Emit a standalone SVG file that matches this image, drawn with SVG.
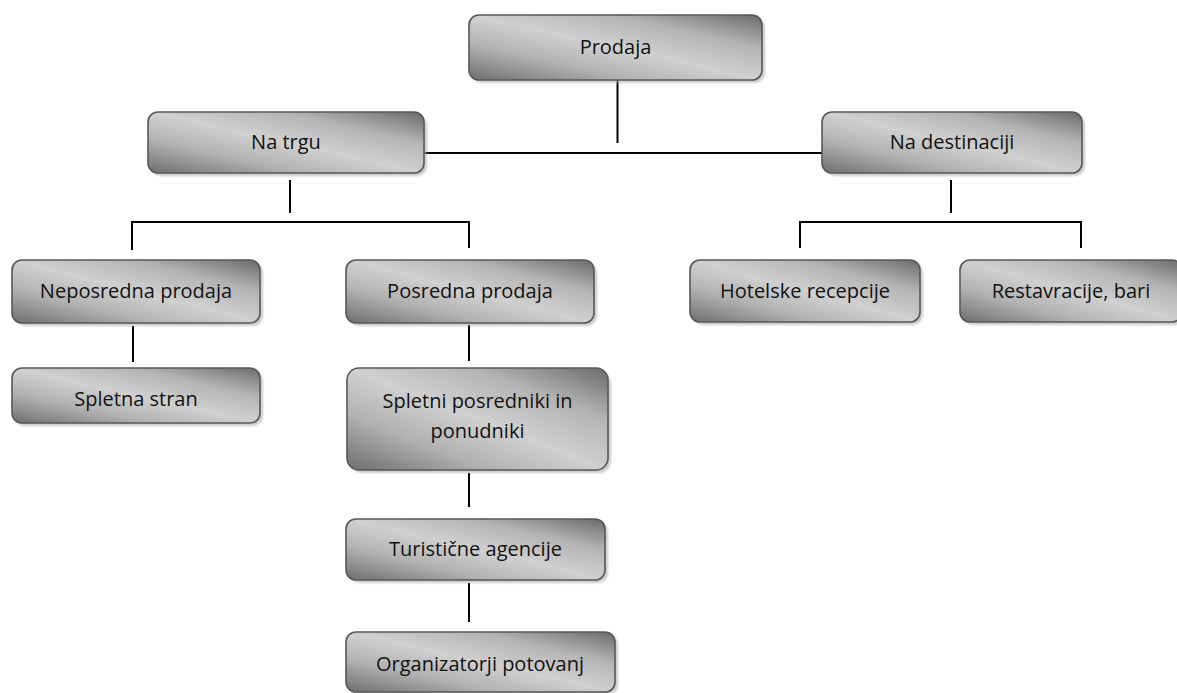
<svg xmlns="http://www.w3.org/2000/svg" width="1177" height="693" viewBox="0 0 1177 693">
<defs>
<linearGradient id="g" x1="0" y1="1" x2="1" y2="0">
<stop offset="0" stop-color="#6e6e6e"/>
<stop offset="0.28" stop-color="#b2b2b2"/>
<stop offset="0.5" stop-color="#d0d0d0"/>
<stop offset="0.74" stop-color="#b4b4b4"/>
<stop offset="1" stop-color="#6a6a6a"/>
</linearGradient>
<filter id="sh" x="-10%" y="-20%" width="130%" height="150%">
<feGaussianBlur stdDeviation="1.2"/>
</filter>
</defs>
<style>
.shadow{fill:#a8a8a8;opacity:0.6;filter:url(#sh)}
.box{fill:url(#g);stroke:#585858;stroke-width:1.6}
.t{font-family:"Open Sans","Liberation Sans",sans-serif;font-size:20px;fill:#111;text-anchor:middle}
.c{fill:none;stroke:#000;stroke-width:2}
</style>
<rect width="1177" height="693" fill="#fff"/>
<g id="connectors">
<path class="c" d="M617.5 80 V143"/>
<path class="c" d="M424 153 H822"/>
<path class="c" d="M290 180 V213 M132 250 V222 H469 V248"/>
<path class="c" d="M951 180 V213 M800 248 V222 H1081 V248"/>
<path class="c" d="M133 326 V362"/>
<path class="c" d="M469 325 V361"/>
<path class="c" d="M469 473 V507"/>
<path class="c" d="M469 583 V622"/>
</g>
<g id="prodaja">
<rect class="shadow" x="472" y="18" width="293" height="65" rx="10"/>
<rect class="box" x="469" y="15" width="293" height="65" rx="10"/>
<text class="t" x="615.5" y="54">Prodaja</text>
</g>
<g id="na-trgu">
<rect class="shadow" x="151" y="115" width="276" height="61" rx="10"/>
<rect class="box" x="148" y="112" width="276" height="61" rx="10"/>
<text class="t" x="286" y="149">Na trgu</text>
</g>
<g id="na-destinaciji">
<rect class="shadow" x="825" y="115" width="260" height="61" rx="10"/>
<rect class="box" x="822" y="112" width="260" height="61" rx="10"/>
<text class="t" x="952" y="149">Na destinaciji</text>
</g>
<g id="neposredna-prodaja">
<rect class="shadow" x="15" y="263" width="248" height="63" rx="10"/>
<rect class="box" x="12" y="260" width="248" height="63" rx="10"/>
<text class="t" x="136" y="298">Neposredna prodaja</text>
</g>
<g id="spletna-stran">
<rect class="shadow" x="15" y="371" width="248" height="55" rx="10"/>
<rect class="box" x="12" y="368" width="248" height="55" rx="10"/>
<text class="t" x="136" y="406">Spletna stran</text>
</g>
<g id="posredna-prodaja">
<rect class="shadow" x="349" y="263" width="248" height="63" rx="10"/>
<rect class="box" x="346" y="260" width="248" height="63" rx="10"/>
<text class="t" x="470" y="298">Posredna prodaja</text>
</g>
<g id="spletni-posredniki">
<rect class="shadow" x="350" y="371" width="261" height="102" rx="12"/>
<rect class="box" x="347" y="368" width="261" height="102" rx="12"/>
<text class="t" x="477.5" y="408">Spletni posredniki in</text>
<text class="t" x="477.5" y="438">ponudniki</text>
</g>
<g id="turisticne-agencije">
<rect class="shadow" x="349" y="522" width="259" height="61" rx="10"/>
<rect class="box" x="346" y="519" width="259" height="61" rx="10"/>
<text class="t" x="475.5" y="556">Turistične agencije</text>
</g>
<g id="organizatorji-potovanj">
<rect class="shadow" x="349" y="635" width="269" height="60" rx="10"/>
<rect class="box" x="346" y="632" width="269" height="60" rx="10"/>
<text class="t" x="480" y="671">Organizatorji potovanj</text>
</g>
<g id="hotelske-recepcije">
<rect class="shadow" x="693" y="263" width="230" height="62" rx="10"/>
<rect class="box" x="690" y="260" width="230" height="62" rx="10"/>
<text class="t" x="805" y="298">Hotelske recepcije</text>
</g>
<g id="restavracije-bari">
<rect class="shadow" x="963" y="263" width="222" height="62" rx="10"/>
<rect class="box" x="960" y="260" width="222" height="62" rx="10"/>
<text class="t" x="1071" y="298">Restavracije, bari</text>
</g>
</svg>
